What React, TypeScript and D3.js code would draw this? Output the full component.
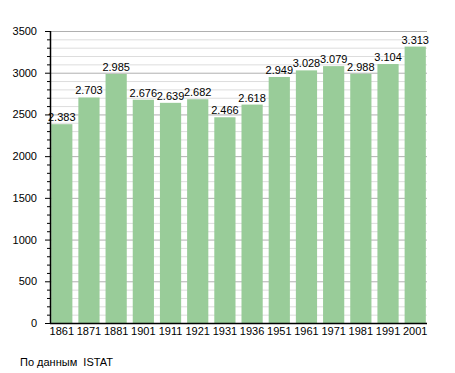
import React from 'react';
import * as d3 from 'd3';

const years = ['1861', '1871', '1881', '1901', '1911', '1921', '1931', '1936', '1951', '1961', '1971', '1981', '1991', '2001'];
const population = [2383, 2703, 2985, 2676, 2639, 2682, 2466, 2618, 2949, 3028, 3079, 2988, 3104, 3313];
const yTicks = [0, 500, 1000, 1500, 2000, 2500, 3000, 3500];
const sourceNote = 'По данным  ISTAT';

const W = 455;
const H = 373;
const left = 51;
const right = 427;
const top = 31;
const bottom = 323;
const font = '"Liberation Sans", Arial, sans-serif';

const fmt = (v: number) => d3.format(',')(v).replace(',', '.');

export default function App() {
  const x = d3.scaleBand<string>().domain(years).range([49, 428]).paddingInner(0.22).paddingOuter(0.08);
  const y = d3.scaleLinear().domain([0, 3500]).range([bottom, top]);
  const minor = d3.range(0, 3501, 100);

  return (
    <svg width={W} height={H} style={{position: 'absolute', left: 0, top: 0}}>
      <rect width={W} height={H} fill="#fff" />
      {minor.map(v => (
        <line key={'g' + v} x1={left} x2={right} y1={y(v) + 0.5} y2={y(v) + 0.5}
          stroke={v % 500 === 0 ? '#b0b0b0' : '#dddddd'} strokeWidth={1} />
      ))}
      {years.map((yr, i) => (
        <rect key={yr} x={x(yr)} y={y(population[i])} width={x.bandwidth()}
          height={bottom - y(population[i])} fill="#99cc99" />
      ))}
      {years.map((yr, i) => (
        <text key={'l' + yr} x={(x(yr) as number) + x.bandwidth() / 2} y={y(population[i]) - 3}
          textAnchor="middle" fontFamily={font} fontSize={11} fill="#000">{fmt(population[i])}</text>
      ))}
      {minor.map(v => (
        <line key={'t' + v} x1={v % 500 === 0 ? 45 : 47} x2={left} y1={y(v) + 0.5} y2={y(v) + 0.5}
          stroke="#000" strokeWidth={1} />
      ))}
      <line x1={left - 0.5} x2={left - 0.5} y1={top} y2={bottom + 1} stroke="#000" strokeWidth={1.5} />
      <line x1={left - 1} x2={right} y1={bottom + 0.5} y2={bottom + 0.5} stroke="#000" strokeWidth={1.5} />
      {yTicks.map(v => (
        <text key={'y' + v} x={37} y={y(v) + 4} textAnchor="end" fontFamily={font} fontSize={11} fill="#000">{v}</text>
      ))}
      {years.map(yr => (
        <text key={'x' + yr} x={(x(yr) as number) + x.bandwidth() / 2} y={335}
          textAnchor="middle" fontFamily={font} fontSize={11} fill="#000">{yr}</text>
      ))}
      <text x={20} y={366} fontFamily={font} fontSize={11} fill="#000" xmlSpace="preserve">{sourceNote}</text>
    </svg>
  );
}
